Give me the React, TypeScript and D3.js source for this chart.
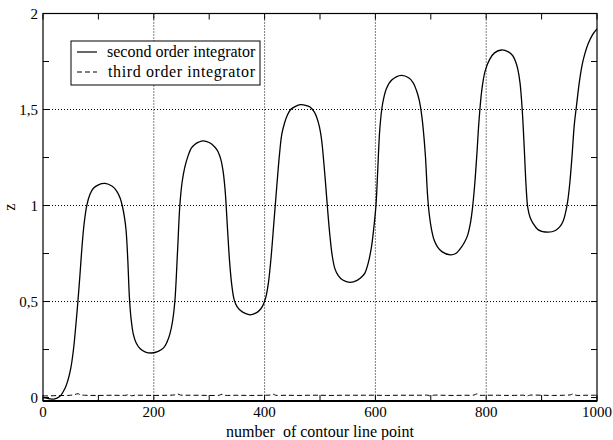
import React from "react";
import * as d3 from "d3";

const secondX = [0,10,20,30,40,45,50,55,60,63,67,70,74,79,85,91,100,112,125,133,139,143,147,150,153,156,159,163,168,175,185,196,208,218,224,229,234,238,243,247,251,256,262,268,274,281,289,300,310,316,321,325,329,333,337,341,345,350,356,365,374,383,391,397,402,407,412,417,422,427,431,436,441,447,455,465,474,482,489,494,499,503,507,511,514,518,522,527,533,541,554,567,576,581,587,593,597,601,604,608,613,620,630,647,660,668,674,679,684,690,694,697,701,706,712,720,735,745,756,762,767,771,775,779,783,787,792,798,806,815,828,840,848,853,857,861,865,869,872,875,879,884,894,912,925,933,939,943,947,951,955,959,963,968,973,978,984,992,1000];
const secondZ = [0,-0.005,-0.008,0.005,0.05,0.09,0.15,0.25,0.4,0.5,0.65,0.77,0.9,1.0,1.06,1.09,1.108,1.115,1.1,1.075,1.04,1.0,0.94,0.87,0.72,0.52,0.41,0.33,0.285,0.255,0.237,0.232,0.24,0.26,0.29,0.33,0.4,0.5,0.77,1.0,1.12,1.2,1.26,1.3,1.318,1.33,1.337,1.328,1.305,1.28,1.24,1.18,1.07,0.88,0.7,0.58,0.51,0.475,0.455,0.438,0.431,0.438,0.455,0.48,0.52,0.6,0.74,0.92,1.1,1.27,1.37,1.43,1.47,1.5,1.515,1.525,1.522,1.513,1.49,1.46,1.41,1.34,1.22,1.08,0.97,0.84,0.74,0.67,0.635,0.612,0.6,0.61,0.63,0.648,0.7,0.786,0.88,1.0,1.17,1.4,1.53,1.61,1.655,1.678,1.665,1.64,1.6,1.55,1.46,1.27,1.06,0.96,0.88,0.82,0.785,0.76,0.743,0.75,0.786,0.815,0.85,0.9,0.98,1.1,1.26,1.44,1.6,1.7,1.76,1.795,1.81,1.8,1.78,1.75,1.71,1.64,1.5,1.28,1.1,0.99,0.94,0.91,0.873,0.861,0.87,0.89,0.92,0.96,1.02,1.12,1.26,1.42,1.52,1.64,1.73,1.79,1.842,1.89,1.92];

const thirdX = [0,25,50,58,63,68,75,100,125,150,155,160,165,175,200,225,238,243,248,260,280,300,318,323,328,350,375,400,410,415,420,440,460,480,500,520,540,560,580,600,620,640,660,680,695,700,705,720,740,760,778,783,788,800,820,840,860,868,873,878,900,920,940,952,957,962,980,1000];
const thirdZ = [0.008,0.01,0.012,0.016,0.02,0.014,0.012,0.011,0.012,0.012,0.016,0.009,0.012,0.012,0.011,0.012,0.014,0.019,0.013,0.012,0.012,0.011,0.012,0.017,0.012,0.012,0.011,0.012,0.013,0.018,0.012,0.012,0.011,0.012,0.012,0.011,0.012,0.012,0.012,0.012,0.011,0.012,0.012,0.012,0.012,0.007,0.012,0.012,0.011,0.012,0.013,0.019,0.012,0.012,0.012,0.011,0.012,0.012,0.007,0.012,0.012,0.011,0.012,0.014,0.019,0.012,0.012,0.012];

const xTicks = [0, 200, 400, 600, 800, 1000];
const xMinor = [100, 300, 500, 700, 900];
const yTicks = [0, 0.5, 1, 1.5, 2];
const yTickLabels = ["0", "0,5", "1", "1,5", "2"];
const yMinor = [0.25, 0.75, 1.25, 1.75];
const seriesNames = ["second order integrator", "third order integrator"];
const xLabel = "number  of contour line point";
const yLabel = "z";

export default function App() {
  const W = 613, H = 440;
  const L = 43, R = 597, T = 13.5, B = 401;
  const x = d3.scaleLinear().domain([0, 1000]).range([L, R]);
  const y = d3.scaleLinear().domain([-0.018, 2]).range([B, T]);
  const line = d3.line<[number, number]>().x(d => x(d[0])).y(d => y(d[1])).curve(d3.curveCatmullRom.alpha(0.5));
  const s2 = secondX.map((v, i) => [v, secondZ[i]] as [number, number]);
  const s3 = thirdX.map((v, i) => [v, thirdZ[i]] as [number, number]);
  const font = "Liberation Serif, DejaVu Serif, serif";
  const tl = 6;
  return (
    <svg width={W} height={H} style={{ position: "absolute", left: 0, top: 0, background: "#fff", fontFamily: font }}>
      <rect x={0} y={0} width={W} height={H} fill="#fff" />
      {xTicks.filter(t => t > 0 && t < 1000).map(t => (
        <line key={"gx" + t} x1={x(t)} x2={x(t)} y1={T} y2={B} stroke="#000" strokeWidth={1} strokeDasharray="1,2" />
      ))}
      {yTicks.filter(t => t > 0 && t < 2).map(t => (
        <line key={"gy" + t} x1={L} x2={R} y1={y(t)} y2={y(t)} stroke="#000" strokeWidth={1} strokeDasharray="1,2" />
      ))}
      {[...xTicks, ...xMinor].map(t => (
        <g key={"tx" + t}>
          <line x1={x(t)} x2={x(t)} y1={B} y2={B - tl} stroke="#000" />
          <line x1={x(t)} x2={x(t)} y1={T} y2={T + tl} stroke="#000" />
        </g>
      ))}
      {[...yTicks, ...yMinor].map(t => (
        <g key={"ty" + t}>
          <line x1={L} x2={L + tl} y1={y(t)} y2={y(t)} stroke="#000" />
          <line x1={R} x2={R - tl} y1={y(t)} y2={y(t)} stroke="#000" />
        </g>
      ))}
      <path d={line(s3) || ""} fill="none" stroke="#000" strokeWidth={1} strokeDasharray="5,3" />
      <path d={line(s2) || ""} fill="none" stroke="#000" strokeWidth={1.3} />
      <rect x={L} y={T} width={R - L} height={B - T} fill="none" stroke="#000" strokeWidth={1.2} />
      <line x1={L} x2={R} y1={B} y2={B} stroke="#000" strokeWidth={2} />
      {xTicks.map(t => (
        <text key={"lx" + t} x={x(t)} y={417} textAnchor="middle" fontSize={15}>{t}</text>
      ))}
      {yTicks.map((t, i) => (
        <text key={"ly" + t} x={38} y={y(t) + 5} textAnchor="end" fontSize={15}>{yTickLabels[i]}</text>
      ))}
      <text x={320} y={437} textAnchor="middle" fontSize={16} style={{ whiteSpace: "pre" }}>{xLabel}</text>
      <text transform={`translate(15,${(T + B) / 2}) rotate(-90)`} textAnchor="middle" fontSize={16}>{yLabel}</text>
      <rect x={71} y={41} width={189} height={44} fill="#fff" stroke="#000" strokeWidth={1} />
      <line x1={77} x2={97} y1={52} y2={52} stroke="#000" strokeWidth={1.2} />
      <line x1={77} x2={97} y1={72} y2={72} stroke="#000" strokeWidth={1} strokeDasharray="5,3" />
      <text x={107} y={57} fontSize={16}>{seriesNames[0]}</text>
      <text x={108} y={77} fontSize={16} textLength={147} lengthAdjust="spacing">{seriesNames[1]}</text>
    </svg>
  );
}
